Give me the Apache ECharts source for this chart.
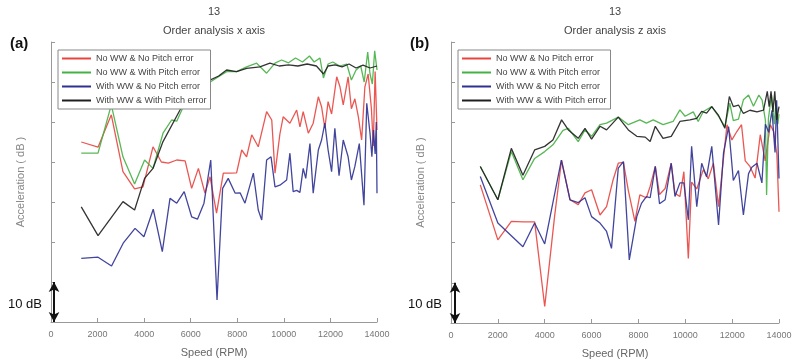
<!DOCTYPE html>
<html>
<head>
<meta charset="utf-8">
<script src="https://cdn.jsdelivr.net/npm/echarts@6/dist/echarts.min.js"></script>
<style>
html,body{margin:0;padding:0;background:#fff;}
#c{width:800px;height:364px;}
</style>
</head>
<body>
<div id="c"></div>
<script>
// ---------- DATA ----------
var seriesNames = ['No WW & No Pitch error', 'No WW & With Pitch error', 'With WW & No Pitch error', 'With WW & With Pitch error'];
var panelLabels = ['(a)', '(b)'];
var panelOrders = ['13', '13'];
var panelTitles = ['Order analysis x axis', 'Order analysis z axis'];
var xTicks = [0, 2000, 4000, 6000, 8000, 10000, 12000, 14000];
var scaleBarDb = [0, 10];
var scaleBarRpm = [130, 170];
var scaleBarText = '10 dB';

// (a) x axis: [RPM, dB]
var a_noWW_noPitch = [[1300,45],[2020,43.7],[2590,51.8],[3090,37.6],[3590,33.3],[3950,33.8],[4380,43.8],[4740,40],[5040,39.7],[5400,40.5],[5760,40.3],[6040,33.4],[6330,38.4],[6610,32.2],[6830,36.3],[7110,27.2],[7400,37.2],[7680,37.2],[7970,37.3],[8190,43],[8400,41.3],[8620,46.8],[8900,43.8],[9260,52.6],[9480,50.5],[9620,37.2],[9830,47],[9970,51.3],[10260,49.7],[10550,53],[10690,48.8],[10830,52.6],[11050,47.2],[11260,49.7],[11480,56.3],[11620,53.8],[11760,48.5],[11900,55.1],[12050,52],[12270,61.3],[12410,58.8],[12550,54.3],[12760,61.3],[12900,53.3],[13050,55.8],[13200,51.3],[13340,45.5],[13480,58.8],[13620,62],[13760,53.3],[13840,44],[13920,62.6],[14000,48]];
var a_noWW_withPitch = [[1300,42.2],[2020,42.2],[2590,54.3],[3090,41.3],[3590,34.5],[4020,40.5],[4380,38.4],[4810,47.2],[5180,50.5],[5400,50.2],[5680,53.8],[6110,57.2],[6540,58.8],[6970,60.5],[7540,62.6],[7970,62.6],[8400,63.8],[8830,64.7],[9260,62.2],[9620,64.7],[9900,65.5],[10200,64.8],[10500,66],[10800,65],[11100,66.5],[11300,65],[11550,66],[11700,61],[11900,64.5],[12100,65],[12400,64],[12700,64.5],[12900,60.5],[13100,63],[13300,64],[13450,60],[13600,67.5],[13700,62],[13800,59.5],[13900,67.8],[14000,63]];
var a_withWW_noPitch = [[1300,15.9],[2020,16.2],[2600,14],[3100,19.7],[3610,23.4],[3990,21.3],[4390,28.2],[4780,17.6],[5110,30.9],[5400,29.7],[5720,32.6],[6040,26.3],[6290,25.7],[6570,29.7],[6860,40.5],[7130,5.5],[7370,33.4],[7610,35.9],[7910,32.2],[8120,32.3],[8330,29.7],[8690,37.2],[8900,28],[9050,25.5],[9260,40.5],[9450,41.3],[9620,33.8],[9830,34.2],[10120,35.5],[10260,42.2],[10400,32.6],[10550,32.9],[10690,32.4],[10830,38.4],[10940,35.9],[11120,44.6],[11260,32.2],[11480,43],[11620,45.5],[11760,49.7],[11900,43],[12050,37.6],[12190,48.4],[12370,36.6],[12550,45.5],[12760,41.3],[12900,35.5],[13050,38.9],[13240,44.6],[13440,29.2],[13560,54.7],[13700,47.2],[13780,41.3],[13850,48],[13920,42],[13970,50],[14000,32.2]];
var a_withWW_withPitch = [[1300,28.8],[2020,21.6],[3090,30.1],[3590,28],[4020,35.9],[4380,38.4],[4810,45.1],[5540,53],[6110,58],[6690,60.1],[7200,61.5],[7540,63],[7970,62.6],[8400,63.4],[8970,63.8],[9400,64.7],[9800,64],[10200,64.3],[10600,64],[11000,64.5],[11400,64],[11700,62],[11900,64],[12200,64.3],[12500,63.8],[12800,64.5],[13100,63.5],[13400,64.2],[13700,63.5],[14000,64]];

// (b) z axis: [RPM, dB]
var b_noWW_noPitch = [[1250,34.4],[2000,20.7],[2575,25.3],[3070,25.2],[3570,25.2],[4000,4.1],[4420,26.5],[4720,40.6],[5080,30.7],[5430,29.5],[5720,32.4],[6000,33.2],[6360,26.9],[6640,29],[6920,35.7],[7140,39.8],[7360,40],[7570,33],[7850,25.3],[8060,31.9],[8340,31.2],[8500,34],[8720,39],[8900,32],[9140,33.5],[9400,39.8],[9560,32.3],[9770,31.5],[9940,37.7],[10130,16.1],[10270,35.1],[10490,33.4],[10770,38.2],[10980,35.9],[11200,39.8],[11420,29],[11630,41],[11780,49.4],[11990,45.6],[12200,47.7],[12400,49.4],[12560,40.4],[12760,39],[12980,36.1],[13200,46.9],[13410,40.4],[13630,49.4],[13770,47.7],[13910,42],[14000,27.7]];
var b_noWW_withPitch = [[1250,39],[2000,30.7],[2575,42.7],[3070,35.7],[3570,41],[4000,42.7],[4350,44.4],[4780,48],[5010,48.5],[5430,45.2],[5720,48.1],[6000,46.5],[6360,49.4],[6640,49.8],[7140,51.3],[7570,49.4],[8060,50.6],[8340,49.8],[8630,50.6],[9050,49.4],[9480,50.2],[9770,53.1],[9990,51.5],[10340,52.6],[10550,50.2],[10770,52.7],[11130,53.9],[11420,51.5],[11690,48.9],[11900,54.8],[12050,50.4],[12270,50.8],[12480,55.6],[12700,56.8],[12910,54],[13140,56.8],[13280,55.5],[13420,50.5],[13470,31.9],[13550,51],[13680,56.8],[13800,49.5],[13870,55],[13950,49.5],[14000,52]];
var b_withWW_noPitch = [[1250,36.5],[2000,24.9],[3070,19],[3570,24.9],[4000,19.7],[4710,40.6],[5080,30.7],[5430,30],[5720,31.2],[6000,26.5],[6360,24.9],[6640,22.8],[6850,18.6],[7140,38.6],[7360,40.2],[7610,15.7],[7930,26.5],[8130,29.8],[8340,31.5],[8500,31.2],[8720,39],[8900,29.7],[9140,30.7],[9400,39.8],[9560,31.5],[9770,34.9],[9940,34.9],[10130,25.7],[10270,44],[10490,29],[10700,39.8],[10910,36.4],[11130,44],[11420,24.4],[11630,42.3],[11850,48.9],[12050,35.5],[12270,38],[12480,26.9],[12700,37.2],[12840,38.8],[13060,39.8],[13270,34.9],[13420,49.5],[13560,47.5],[13700,53],[13830,42.5],[13900,55.5],[14000,36]];
var b_withWW_withPitch = [[1250,39],[2000,30.7],[2575,43.5],[3070,36.8],[3570,43.1],[4000,44],[4350,45.6],[4720,50.6],[5010,48.1],[5430,46],[5720,48.5],[6000,45.8],[6360,49],[6640,48.1],[7140,51.3],[7570,48.1],[7930,46.5],[8290,46.3],[8500,45.2],[8720,49],[9050,46],[9400,46.5],[9770,50.2],[10200,50.6],[10490,51],[10700,52.7],[10910,52.3],[11130,53.9],[11420,51.7],[11690,48.5],[11880,56.4],[12050,53.9],[12270,54.3],[12480,52.2],[12760,53],[13060,52.6],[13340,53],[13500,57.7],[13580,53.9],[13660,57.7],[13740,52.6],[13820,57.7],[13900,50.6],[14000,53.9]];

// ---------- STYLE ----------
var colors = ['#e8453f', '#45b043', '#2e3192', '#1e1e1e'];
var FONT = '"Liberation Sans", Arial, sans-serif';
var grids = [
  {left: 51, top: 42, width: 326, height: 280},
  {left: 451, top: 42, width: 328, height: 281}
];
var panelData = [
  [a_noWW_noPitch, a_noWW_withPitch, a_withWW_noPitch, a_withWW_withPitch],
  [b_noWW_noPitch, b_noWW_withPitch, b_withWW_noPitch, b_withWW_withPitch]
];

var chart = echarts.init(document.getElementById('c'), null, {renderer: 'canvas'});

var xAxes = [], yAxes = [], series = [], legends = [], graphics = [];
grids.forEach(function (g, i) {
  xAxes.push({
    type: 'value', gridIndex: i, min: xTicks[0], max: xTicks[xTicks.length - 1],
    interval: xTicks[1] - xTicks[0],
    name: 'Speed (RPM)', nameLocation: 'middle', nameGap: 25,
    nameTextStyle: {fontSize: 11, color: '#666', fontFamily: FONT},
    axisLine: {lineStyle: {color: '#999', width: 1}},
    axisTick: {inside: true, length: 4, lineStyle: {color: '#999'}},
    axisLabel: {fontSize: 9, color: '#777', margin: 8, fontFamily: FONT,
      formatter: function (v) { return String(v); }},
    splitLine: {show: false}
  });
  yAxes.push({
    type: 'value', gridIndex: i, min: 0, max: 70, interval: 10,
    name: 'Acceleration ( dB )', nameLocation: 'middle', nameGap: 25, nameRotate: 90,
    nameTextStyle: {fontSize: 11, color: '#888', fontFamily: FONT},
    axisLine: {show: true, lineStyle: {color: '#999', width: 1}},
    axisTick: {show: true, inside: true, length: 4, lineStyle: {color: '#999'}},
    axisLabel: {show: false},
    splitLine: {show: false}
  });
  panelData[i].forEach(function (d, k) {
    var s = {
      type: 'line', name: seriesNames[k], xAxisIndex: i, yAxisIndex: i,
      data: d, showSymbol: false, symbol: 'none', smooth: false,
      lineStyle: {color: colors[k], width: 1.3, opacity: 0.9},
      itemStyle: {color: colors[k]},
      z: k === 3 ? 3 : 2,
      animation: false
    };
    if (k === 0) {
      s.markLine = {
        silent: true, symbol: ['arrow', 'arrow'], symbolSize: [8, 10],
        label: {show: false},
        lineStyle: {color: '#111', width: 2, type: 'solid'},
        data: [[{coord: [scaleBarRpm[i], scaleBarDb[0]]}, {coord: [scaleBarRpm[i], scaleBarDb[1]]}]],
        animation: false
      };
    }
    series.push(s);
  });
  legends.push({
    orient: 'vertical', left: g.left + 7, top: 50,
    data: seriesNames.slice(),
    icon: 'rect', itemWidth: 29, itemHeight: 2, itemGap: 3,
    padding: [3, 4, 3, 4],
    backgroundColor: '#fff', borderColor: '#888', borderWidth: 1,
    textStyle: {fontSize: 9, color: '#444', fontFamily: FONT, lineHeight: 11, padding: [0,0,0,0]},
    selectedMode: false
  });
  var cx = g.left + g.width / 2;
  graphics.push({type: 'text', x: cx, y: 12, style: {text: panelOrders[i], fontSize: 11, fill: '#444', fontFamily: FONT, textAlign: 'center', textVerticalAlign: 'middle'}});
  graphics.push({type: 'text', x: cx, y: 31, style: {text: panelTitles[i], fontSize: 11, fill: '#444', fontFamily: FONT, textAlign: 'center', textVerticalAlign: 'middle'}});
  graphics.push({type: 'text', x: g.left - 41, y: 44, style: {text: panelLabels[i], fontSize: 15, fontWeight: 'bold', fill: '#111', fontFamily: FONT, textVerticalAlign: 'middle'}});
  graphics.push({type: 'text', x: g.left - 43, y: 304, style: {text: scaleBarText, fontSize: 13, fill: '#111', fontFamily: FONT, textVerticalAlign: 'middle'}});
});

chart.setOption({
  animation: false,
  backgroundColor: '#fff',
  grid: grids,
  xAxis: xAxes,
  yAxis: yAxes,
  legend: legends,
  series: series,
  graphic: graphics
});
</script>
</body>
</html>
